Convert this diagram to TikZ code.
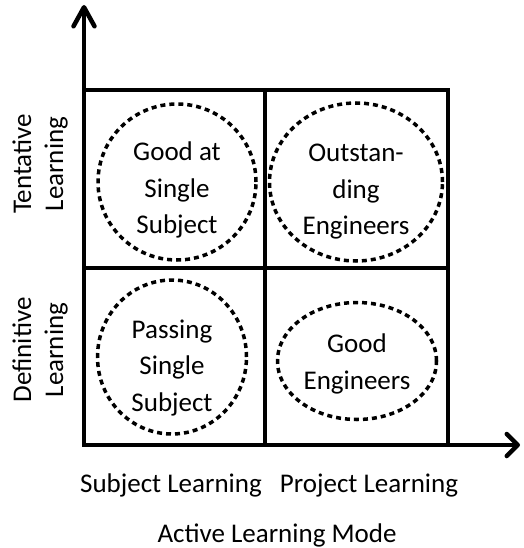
\documentclass[tikz,border=0pt]{standalone}
\usepackage{fontspec}
\setmainfont{Carlito}
\usetikzlibrary{arrows.meta,shapes.geometric}
\begin{document}
\begin{tikzpicture}[x=1pt,y=-1pt,
  grid/.style={line width=4.5pt},
  circ/.style={draw, ellipse, line width=3.5pt, dash pattern=on 5pt off 4pt, inner sep=0pt},
  lbl/.style={font=\fontsize{27}{36.5}\selectfont, align=center, inner sep=0pt},
  side/.style={font=\fontsize{27}{32}\selectfont, align=center, inner sep=0pt, rotate=90}]
\useasboundingbox (0,0) rectangle (523,548);
% axes
\coordinate (O) at (84,445);
\coordinate (Ytip) at (84,5);
\coordinate (Xtip) at (520,445);
\draw[grid, -{Straight Barb[length=19pt, width=21pt, round]}] (O) -- (Ytip);
\draw[grid, -{Straight Barb[length=11pt, width=22pt, round]}] (O) -- (Xtip);
% grid
\coordinate (TL) at (84,90);
\coordinate (BR) at (448,445);
\coordinate (TM) at (265,90);
\coordinate (BM) at (265,445);
\coordinate (LM) at (84,268);
\coordinate (RM) at (448,268);
\draw[grid, line join=miter] (TL) rectangle (BR);
\draw[grid] (TM) -- (BM);
\draw[grid] (LM) -- (RM);
% ellipses
\node[circ, minimum width=158pt, minimum height=156pt] (e1) at (177,182) {};
\node[circ, minimum width=173pt, minimum height=158pt] (e2) at (356,182) {};
\node[circ, minimum width=149pt, minimum height=154pt] (e3) at (172,357) {};
\node[circ, minimum width=159pt, minimum height=117pt] (e4) at (357,361) {};
\node[lbl] (t1) at (177,190) {Good at\\Single\\Subject};
\node[lbl] (t2) at (356,192) {Outstan-\\ding\\Engineers};
\node[lbl] (t3) at (172,368) {Passing\\Single\\Subject};
\node[lbl] (t4) at (357,364) {Good\\Engineers};
% side labels
\node[side] (s1) at (40,164) {Tentative\\Learning};
\node[side] (s2) at (40,350) {Definitive\\Learning};
% bottom labels
\node[lbl, anchor=base] (b1) at (171,492) {Subject Learning};
\node[lbl, anchor=base] (b2) at (369,492) {Project Learning};
\node[lbl, anchor=base] (b3) at (277,542) {Active Learning Mode};
\end{tikzpicture}
\end{document}
